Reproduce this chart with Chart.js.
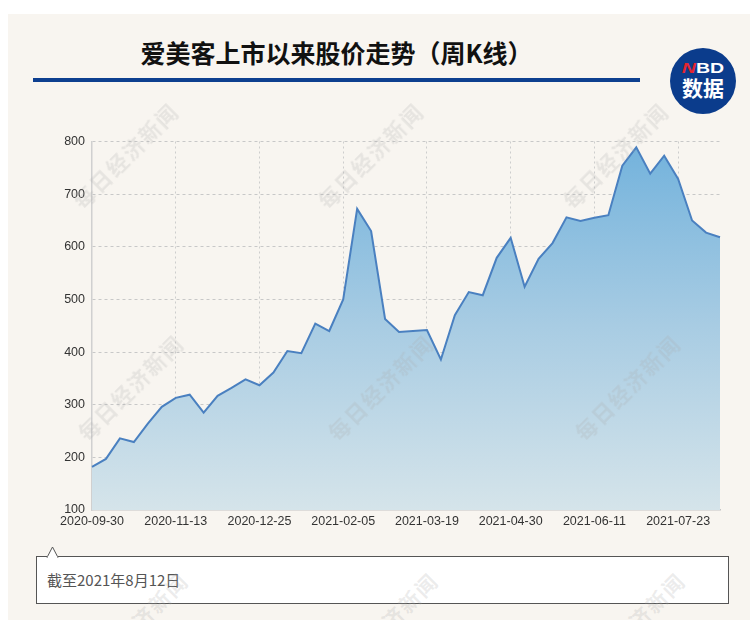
<!DOCTYPE html>
<html>
<head>
<meta charset="utf-8">
<script src="https://cdn.jsdelivr.net/npm/chart.js@4.4.1/dist/chart.umd.min.js"></script>
<style>
  html, body { margin: 0; padding: 0; background: #fff; }
  #page { position: relative; width: 750px; height: 620px; overflow: hidden; background: #fff; }
  #panel { position: absolute; left: 8px; top: 14px; right: 0; bottom: 0; background: #f8f5f0; }
  #title { position: absolute; left: 33px; width: 607px; top: 35px; text-align: center;
    font-family: "Noto Sans CJK SC", sans-serif; font-weight: 700; font-size: 25px; color: #111; line-height: 34px; }
  #rule { position: absolute; left: 33px; width: 607px; top: 78px; height: 4px; background: #0d3f8f; }
  #logo { position: absolute; left: 670px; top: 48px; width: 66px; height: 66px; border-radius: 50%; background: #0b3c8c;
    font-family: "Noto Sans CJK SC", sans-serif; color: #fff; text-align: center; }
  #logo .nbd { position: absolute; top: 12px; left: 0; width: 66px; font: 700 15px "Liberation Sans", sans-serif;
    transform: scaleX(1.3); line-height: 16px; }
  #logo .nbd span { color: #e4252f; font-style: italic; }
  #logo .cn { position: absolute; top: 27px; left: 0; width: 66px; font-weight: 700; font-size: 21px; line-height: 24px; }
  #chart-wrap { position: absolute; left: 0; top: 127px; width: 750px; height: 407px; }
  #note { position: absolute; left: 36px; top: 556px; width: 693px; height: 48px; background: #fff; border: 1px solid #555;
    box-sizing: border-box; }
  #note .txt { position: absolute; left: 10px; top: 12px; font: 15px "Noto Sans CJK SC", sans-serif; color: #555; }
  .wm { position: absolute; font-family: "Noto Sans CJK SC", sans-serif; font-weight: 700; font-size: 21px; letter-spacing: 2px;
    color: rgba(170, 170, 170, 0.22); transform: translate(-50%, -50%) rotate(-45deg); white-space: nowrap; pointer-events: none; z-index: 5; }
</style>
</head>
<body>
<div id="page">
  <div id="panel"></div>
  <div id="title">爱美客上市以来股价走势（周K线）</div>
  <div id="rule"></div>
  <div id="logo"><div class="nbd"><span>N</span>BD</div><div class="cn">数据</div></div>
  <div id="chart-wrap"><canvas id="price-chart" width="750" height="407"></canvas></div>
  <div id="note"><div class="txt">截至2021年8月12日</div></div>
  <svg style="position:absolute;left:46px;top:546px;z-index:2" width="14" height="12">
    <polygon points="1,11.5 6.5,1 12,11.5" fill="#fff" stroke="#555" stroke-width="1"/>
    <rect x="1.5" y="10.5" width="10" height="2" fill="#fff"/>
  </svg>
  <div class="wm" style="left:125px;top:155px">每日经济新闻</div>
  <div class="wm" style="left:370px;top:155px">每日经济新闻</div>
  <div class="wm" style="left:615px;top:155px">每日经济新闻</div>
  <div class="wm" style="left:130px;top:387px">每日经济新闻</div>
  <div class="wm" style="left:380px;top:387px">每日经济新闻</div>
  <div class="wm" style="left:627px;top:387px">每日经济新闻</div>
  <div class="wm" style="left:135px;top:625px">每日经济新闻</div>
  <div class="wm" style="left:385px;top:625px">每日经济新闻</div>
  <div class="wm" style="left:632px;top:625px">每日经济新闻</div>
</div>
<script>
// weekly closing dates (week ending)
const weeks = [
  '2020-09-30', '2020-10-09', '2020-10-16', '2020-10-23', '2020-10-30', '2020-11-06',
  '2020-11-13', '2020-11-20', '2020-11-27', '2020-12-04', '2020-12-11', '2020-12-18',
  '2020-12-25', '2020-12-31', '2021-01-08', '2021-01-15', '2021-01-22', '2021-01-29',
  '2021-02-05', '2021-02-10', '2021-02-19', '2021-02-26', '2021-03-05', '2021-03-12',
  '2021-03-19', '2021-03-26', '2021-04-02', '2021-04-09', '2021-04-16', '2021-04-23',
  '2021-04-30', '2021-05-07', '2021-05-14', '2021-05-21', '2021-05-28', '2021-06-04',
  '2021-06-11', '2021-06-18', '2021-06-25', '2021-07-02', '2021-07-09', '2021-07-16',
  '2021-07-23', '2021-07-30', '2021-08-06', '2021-08-12'
];

// weekly close price (yuan)
const closes = [
  182, 197, 236, 229, 264, 296,
  313, 319, 285, 317, 332, 348,
  337, 361, 402, 398, 454, 440,
  500, 672, 630, 463, 438, 440,
  442, 386, 470, 514, 508, 579,
  617, 524, 577, 607, 656, 649,
  655, 660, 754, 789, 739, 773,
  729, 650, 627, 618
];

// dates shown on the x axis
const tickLabels = ['2020-09-30', '2020-11-13', '2020-12-25', '2021-02-05', '2021-03-19', '2021-04-30', '2021-06-11', '2021-07-23'];
const yTicks = [100, 200, 300, 400, 500, 600, 700, 800];

const tickFont = { family: '"Liberation Sans", Arial, sans-serif', size: 12.5 };

function areaGradient(context) {
  const { ctx, chartArea } = context.chart;
  if (!chartArea) return 'rgba(140,190,225,0.6)';
  const g = ctx.createLinearGradient(0, chartArea.top, 0, chartArea.bottom);
  g.addColorStop(0, '#72b2dc');
  g.addColorStop(0.5, '#a8cce3');
  g.addColorStop(1, '#d5e4ea');
  return g;
}

new Chart(document.getElementById('price-chart'), {
  type: 'line',
  data: {
    labels: weeks,
    datasets: [{
      label: '周收盘价',
      data: closes,
      borderColor: '#4a80c0',
      borderWidth: 2,
      backgroundColor: areaGradient,
      fill: 'start',
      tension: 0,
      pointRadius: 0,
    }]
  },
  options: {
    responsive: false,
    animation: false,
    layout: { padding: { left: 0, right: 30, top: 8, bottom: 0 } },
    plugins: { legend: { display: false }, tooltip: { enabled: false } },
    scales: {
      x: {
        offset: false,
        afterFit: (scale) => { scale.height = 24; },
        grid: {
          drawTicks: false,
          color: (c) => (c.index > 0 && tickLabels.includes(weeks[c.index])) ? '#cdcdcd' : 'rgba(0,0,0,0)',
        },
        border: { display: true, color: '#c4c4c4', width: 1.5, dash: [2, 3] },
        ticks: {
          autoSkip: false,
          maxRotation: 0,
          padding: 4,
          color: '#333',
          font: tickFont,
          callback: (v, i) => tickLabels.includes(weeks[i]) ? weeks[i] : '',
        }
      },
      y: {
        min: 100,
        max: 800,
        afterFit: (scale) => { scale.width = 92; },
        afterBuildTicks: (scale) => { scale.ticks = yTicks.map(v => ({ value: v })); },
        grid: {
          drawTicks: false,
          color: (c) => c.tick && c.tick.value > 100 ? '#c8c8c8' : 'rgba(0,0,0,0)',
        },
        border: { display: true, color: '#d0d0d0', width: 1.5, dash: [3, 3] },
        ticks: { padding: 7, color: '#333', font: tickFont }
      }
    }
  }
});
</script>
</body>
</html>
